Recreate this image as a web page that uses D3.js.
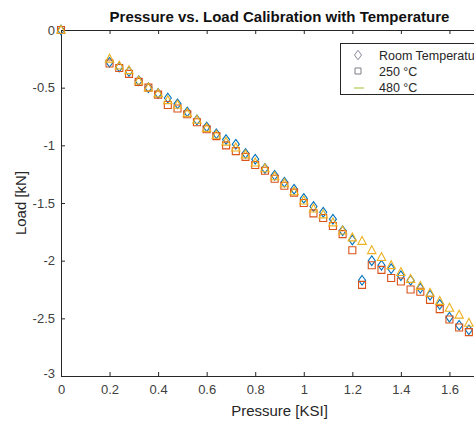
<!DOCTYPE html>
<html>
<head>
<meta charset="utf-8">
<script src="https://cdn.jsdelivr.net/npm/d3@7"></script>
<style>
html,body{margin:0;padding:0;background:#fff;overflow:hidden;}
svg{display:block;font-family:"Liberation Sans",Arial,sans-serif;}
</style>
</head>
<body>
<svg id="chart" width="474" height="422"></svg>
<script>
const pressure = [0, 0.20, 0.24, 0.28, 0.32, 0.36, 0.40, 0.44, 0.48, 0.52, 0.56, 0.60, 0.64, 0.68, 0.72, 0.76, 0.80, 0.84, 0.88, 0.92, 0.96, 1.00, 1.04, 1.08, 1.12, 1.16, 1.20, 1.24, 1.28, 1.32, 1.36, 1.40, 1.44, 1.48, 1.52, 1.56, 1.60, 1.64, 1.68, 1.72];
const loadRoom = [0, -0.28, -0.32, -0.36, -0.44, -0.50, -0.55, -0.59, -0.64, -0.71, -0.78, -0.84, -0.90, -0.95, -0.99, -1.07, -1.12, -1.20, -1.26, -1.32, -1.38, -1.46, -1.53, -1.58, -1.64, -1.74, -1.82, -2.17, -2.00, -2.04, -2.07, -2.13, -2.17, -2.24, -2.30, -2.38, -2.49, -2.56, -2.60, -2.66];
const load250 = [0, -0.29, -0.33, -0.38, -0.45, -0.50, -0.56, -0.65, -0.68, -0.73, -0.80, -0.86, -0.92, -1.00, -1.05, -1.10, -1.17, -1.22, -1.29, -1.35, -1.41, -1.50, -1.59, -1.63, -1.70, -1.77, -1.91, -2.21, -2.04, -2.08, -2.15, -2.18, -2.25, -2.27, -2.34, -2.42, -2.51, -2.58, -2.62, -2.68];
const load480 = [0, -0.25, -0.31, -0.35, -0.44, -0.50, -0.55, -0.61, -0.65, -0.72, -0.78, -0.85, -0.91, -0.97, -1.02, -1.08, -1.15, -1.20, -1.27, -1.33, -1.40, -1.48, -1.55, -1.60, -1.67, -1.74, -1.80, -1.83, -1.91, -1.97, -2.04, -2.10, -2.16, -2.22, -2.28, -2.35, -2.41, -2.47, -2.54, -2.60];
const seriesNames = ["Room Temperature", "250 °C", "480 °C"];
const xTicks = [0, 0.2, 0.4, 0.6, 0.8, 1, 1.2, 1.4, 1.6];
const yTicks = [0, -0.5, -1, -1.5, -2, -2.5, -3];

(function () {
const svg = d3.select("#chart");
const mLeft = 61, mRight = 498, mTop = 30, mBottom = 376;
const x = d3.scaleLinear().domain([0, 1.8]).range([mLeft, mRight]);
const y = d3.scaleLinear().domain([-3, 0]).range([mBottom, mTop]);
const axisColor = "#262626";

const fmt = d => String(d);
const gx = svg.append("g").attr("transform", `translate(0,${mBottom})`)
  .call(d3.axisBottom(x).tickValues(xTicks).tickSize(-4).tickPadding(9).tickFormat(fmt));
const gxt = svg.append("g").attr("transform", `translate(0,${mTop})`)
  .call(d3.axisTop(x).tickValues(xTicks).tickSize(-4).tickFormat(""));
const gy = svg.append("g").attr("transform", `translate(${mLeft},0)`)
  .call(d3.axisLeft(y).tickValues(yTicks).tickSize(-4).tickPadding(6).tickFormat(fmt));
[gx, gxt, gy].forEach(g => {
  g.select(".domain").attr("stroke", axisColor).attr("stroke-width", 1);
  g.selectAll(".tick line").attr("stroke", axisColor).attr("stroke-width", 1);
  g.selectAll(".tick text").attr("fill", "#404040").attr("font-size", 13)
    .attr("font-family", "'Liberation Sans', Arial, sans-serif");
});
gy.selectAll(".tick text").filter(d => d === -3).attr("dy", "0.1em");

svg.append("text").attr("x", (mLeft + mRight) / 2).attr("y", 22)
  .attr("text-anchor", "middle").attr("font-size", 15).attr("font-weight", "bold")
  .attr("fill", "#111").text("Pressure vs. Load Calibration with Temperature");
svg.append("text").attr("x", (mLeft + mRight) / 2).attr("y", 416)
  .attr("text-anchor", "middle").attr("font-size", 15).attr("fill", "#262626")
  .text("Pressure [KSI]");
svg.append("text").attr("transform", `translate(26,${(mTop + mBottom) / 2}) rotate(-90)`)
  .attr("text-anchor", "middle").attr("font-size", 15).attr("fill", "#262626")
  .text("Load [kN]");

const diamondPath = "M0,-4.8L3.5,0L0,4.8L-3.5,0Z";
const squarePath = "M-3.5,-3.5H3.5V3.5H-3.5Z";
const trianglePath = "M0,-4.6L4.2,3.3H-4.2Z";

const series = [
  {vals: loadRoom, path: diamondPath, color: "#0072BD"},
  {vals: load250, path: squarePath, color: "#D95319"},
  {vals: load480, path: trianglePath, color: "#EDB120"}
];
series.forEach(s => {
  svg.append("g").selectAll("path").data(pressure.map((p, i) => [p, s.vals[i]]))
    .enter().append("path")
    .attr("d", s.path)
    .attr("transform", d => `translate(${x(d[0])},${y(d[1])})`)
    .attr("fill", "none").attr("stroke", s.color).attr("stroke-width", 1.1);
});

const lg = svg.append("g");
lg.append("rect").attr("x", 340.5).attr("y", 43.5).attr("width", 200).attr("height", 51)
  .attr("fill", "#fff").attr("stroke", axisColor).attr("stroke-width", 1);
const legendRows = [55, 71, 87];
lg.append("path").attr("d", diamondPath).attr("transform", `translate(358,${legendRows[0]})`)
  .attr("fill", "none").attr("stroke", "#8a8c9c").attr("stroke-width", 1);
lg.append("path").attr("d", "M-3,-3H3V3H-3Z").attr("transform", `translate(358,${legendRows[1]})`)
  .attr("fill", "none").attr("stroke", "#7d7d85").attr("stroke-width", 1);
lg.append("line").attr("x1", 354).attr("x2", 364).attr("y1", legendRows[2] + 1).attr("y2", legendRows[2] + 1)
  .attr("stroke", "#cfe09a").attr("stroke-width", 2);
seriesNames.forEach((n, i) => {
  lg.append("text").attr("x", 379).attr("y", legendRows[i] + 4.5)
    .attr("font-size", 12.5).attr("fill", "#262626").text(n);
});
})();
</script>
</body>
</html>
